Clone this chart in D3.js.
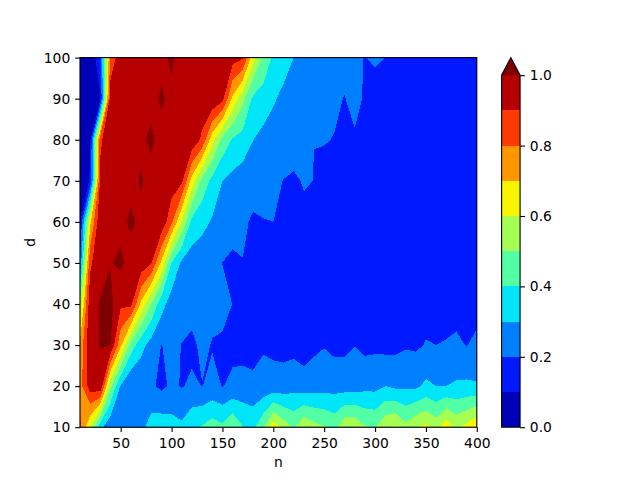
<!DOCTYPE html>
<html><head><meta charset="utf-8">
<script src="https://cdnjs.cloudflare.com/ajax/libs/d3/7.8.5/d3.min.js"></script>
<style>
html,body{margin:0;padding:0;background:#fff}
svg{display:block}
text{font-family:"DejaVu Sans",sans-serif;font-size:13.89px;fill:#000}
</style></head><body>
<svg id="c" width="640" height="480"></svg>
<script>
const nValues = d3.range(10, 401, 10);
const dValues = [10,20,30,40,50,60,70,80,90,100];
const levels = [0,0.1,0.2,0.3,0.4,0.5,0.6,0.7,0.8,0.9,1.0];
const bandColors = ["#0000b6","#0019ff","#0080ff","#00e5f7","#52ffa5","#a5ff52","#f7f500","#ff9600","#ff3900","#b60000","#7f0000"];
const xTicks = [50,100,150,200,250,300,350,400];
const yTicks = [10,20,30,40,50,60,70,80,90,100];
const barTicks = [0,0.2,0.4,0.6,0.8,1.0];

const row10 = [.82,.60,.33,.22,.22,.24,.27,.345,.36,.34, .32,.38,.41,.45,.423,.494,.405,.375,.48,.66, .56,.49,.59,.534,.51,.47,.58,.58,.51,.495, .58,.615,.53,.59,.625,.56,.67,.58,.63,.70];
const row20 = [.76,.95,.98,.52,.29,.199,.215,.215,.18,.215, .195,.215,.198,.223,.197,.217,.23,.225,.233,.234, .24,.26,.237,.25,.26,.26,.25,.25,.27,.27, .30,.28,.28,.28,.32,.30,.30,.315,.32,.31];
const row30 = [.72,.99,1.002,1.001,.72,.46,.335,.26,.198,.22, .198,.18,.22,.195,.19,.18,.17,.16,.19,.18, .17,.17,.16,.18,.195,.175,.18,.198,.175,.18, .17,.175,.19,.185,.205,.2,.205,.215,.197,.22];
const row40 = [.53,.97,1.005,1.03,.92,.93,.68,.50,.34,.25, .235,.235,.23,.225,.22,.199,.17,.16,.17,.16, .16,.15,.15,.16,.15,.15,.14,.15,.15,.14, .15,.14,.14,.15,.17,.17,.17,.17,.17,.17];
const row50 = [.22,.88,.98,.995,1.02,.96,.97,.905,.68,.40, .28,.25,.24,.23,.199,.195,.197,.17,.165,.16, .16,.15,.15,.15,.14,.15,.14,.14,.13,.14, .13,.13,.12,.13,.13,.12,.13,.12,.13,.13];
const row60 = [.09,.68,.99,.98,.97,1.02,.97,.98,.98,.82, .59,.37,.33,.29,.27,.21,.22,.185,.195,.20, .18,.17,.18,.16,.16,.15,.15,.14,.14,.13, .13,.12,.13,.12,.13,.12,.12,.13,.12,.12];
const row70 = [.03,.11,.93,.97,.98,.97,1.01,.96,.97,.96, .92,.66,.47,.37,.30,.27,.25,.245,.25,.22, .198,.185,.207,.199,.17,.165,.16,.15,.15,.14, .13,.14,.13,.14,.12,.13,.13,.12,.13,.12];
const row80 = [.02,.09,.88,.98,.97,.98,.98,1.02,.96,.97, .98,.98,.88,.64,.47,.39,.36,.302,.27,.26, .25,.25,.24,.2003,.205,.197,.185,.19,.17,.14, .14,.13,.14,.13,.14,.13,.14,.13,.13,.14];
const row90 = [.01,.03,.09,.97,.98,.98,.97,.97,1.015,.97, .96,.97,.96,.995,.93,.68,.53,.38,.355,.31, .28,.26,.25,.24,.23,.215,.197,.225,.19,.14, .15,.15,.14,.14,.15,.14,.14,.13,.14,.14];
const row100 = [.01,.02,.18,.82,.97,.97,.98,.97,.97,1.02, .95,.97,.97,.96,.97,.945,.91,.64,.48,.385, .335,.30,.28,.26,.25,.245,.23,.225,.196,.22, .199,.18,.17,.17,.16,.16,.15,.16,.15,.15];
const grid = [row10,row20,row30,row40,row50,row60,row70,row80,row90,row100];

const L=80, R=476.8, T=57.6, B=427.2;
const BL=501.6, BR=520.08, BT=75.2;
const svg = d3.select("#c");
const x = d3.scaleLinear().domain([10,400]).range([L,R]);
const y = d3.scaleLinear().domain([10,100]).range([B,T]);
const by = d3.scaleLinear().domain([0,1]).range([B,BT]);

svg.append("defs").append("clipPath").attr("id","plot").append("rect")
  .attr("x",L).attr("y",T).attr("width",R-L).attr("height",B-T);

const flat = grid.flat();
const contours = d3.contours().size([nValues.length,dValues.length]).thresholds(levels)(flat);
const stepN = nValues[1]-nValues[0], stepD = dValues[1]-dValues[0];
const proj = d3.geoTransform({point(px,py){
  this.stream.point(x(nValues[0]+(px-0.5)*stepN), y(dValues[0]+(py-0.5)*stepD));
}});
const path = d3.geoPath(proj);
svg.append("g").attr("clip-path","url(#plot)").selectAll("path").data(contours).join("path")
  .attr("d",path).attr("fill",(c,i)=>bandColors[i]).attr("shape-rendering","crispEdges");

const styleAxis = g=>{
  g.selectAll("line").attr("stroke","#000").attr("stroke-width",1.11);
  g.selectAll("text").style("font-family",'"DejaVu Sans",sans-serif').style("font-size","13.89px").attr("fill","#000");
};
const xa = svg.append("g").attr("transform",`translate(0,${B})`)
  .call(d3.axisBottom(x).tickValues(xTicks).tickFormat(d3.format("d")).tickSize(4.86).tickPadding(5.6));
xa.select(".domain").remove(); styleAxis(xa);
const ya = svg.append("g").attr("transform",`translate(${L},0)`)
  .call(d3.axisLeft(y).tickValues(yTicks).tickFormat(d3.format("d")).tickSize(4.86).tickPadding(4.9));
ya.select(".domain").remove(); styleAxis(ya);

svg.append("rect").attr("x",L).attr("y",T).attr("width",R-L).attr("height",B-T)
  .attr("fill","none").attr("stroke","#000").attr("stroke-width",1.11);

svg.append("text").attr("x",(L+R)/2).attr("y",467).attr("text-anchor","middle").text("n");
svg.append("text").attr("transform",`translate(35,${(T+B)/2}) rotate(-90)`).attr("text-anchor","middle").text("d");

// colorbar
const bandLevels = levels.slice(0,-1);
svg.append("g").selectAll("rect").data(bandLevels).join("rect")
  .attr("x",BL).attr("width",BR-BL)
  .attr("y",(v,i)=>by(levels[i+1])).attr("height",(v,i)=>by(levels[i])-by(levels[i+1]))
  .attr("fill",(v,i)=>bandColors[i]).attr("shape-rendering","crispEdges");
const tri = [[BL,BT],[(BL+BR)/2,T],[BR,BT]];
svg.append("polygon").attr("points",tri.join(" ")).attr("fill",bandColors[10]);
svg.append("path").attr("d",`M${BL},${B}L${BL},${BT}L${(BL+BR)/2},${T}L${BR},${BT}L${BR},${B}Z`)
  .attr("fill","none").attr("stroke","#000").attr("stroke-width",1.11);
const ba = svg.append("g").attr("transform",`translate(${BR},0)`)
  .call(d3.axisRight(by).tickValues(barTicks).tickFormat(d3.format(".1f")).tickSize(4.86).tickPadding(4.9));
ba.select(".domain").remove(); styleAxis(ba);
</script>
</body></html>
